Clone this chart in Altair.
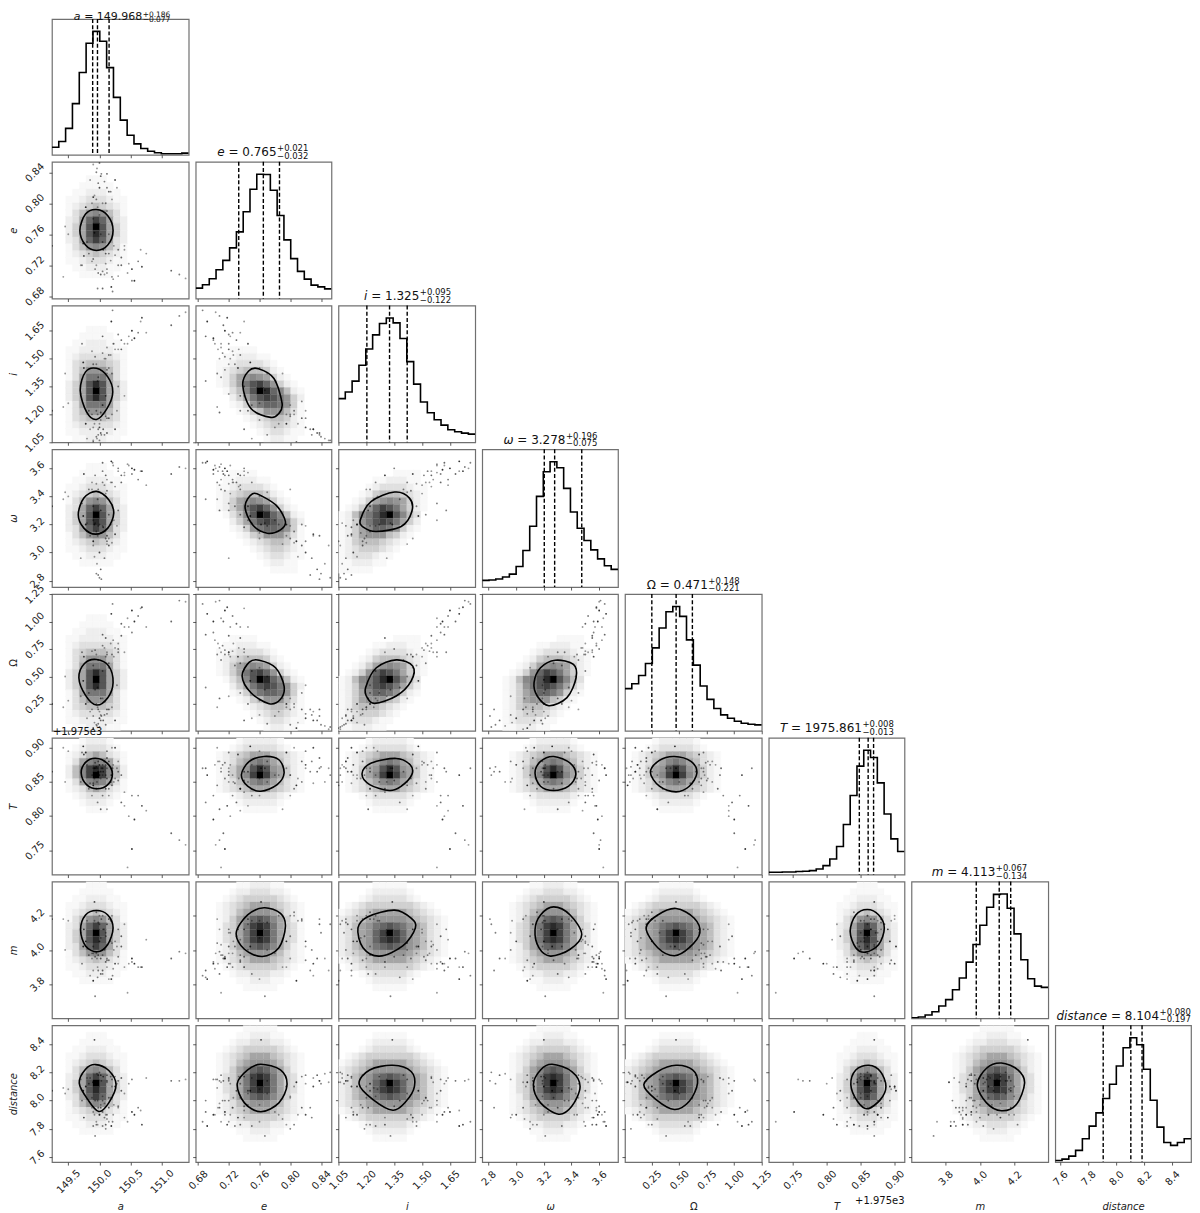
import altair as alt
import pandas as pd

# axis ranges, ticks and labels
VARS = ["a", "e", "i", "w", "O", "T", "m", "d"]
LO = dict(a=149.238, e=0.677, i=1.05, w=2.754, O=0.0055, T=0.7146, m=3.601, d=7.565)
HI = dict(a=151.43, e=0.8536, i=1.786, w=3.736, O=1.25, T=0.9145, m=4.399, d=8.533)
TICKS = dict(a=[149.5, 150.0, 150.5, 151.0], e=[0.68, 0.72, 0.76, 0.80, 0.84],
             i=[1.05, 1.20, 1.35, 1.50, 1.65], w=[2.8, 3.0, 3.2, 3.4, 3.6],
             O=[0.25, 0.50, 0.75, 1.00, 1.25], T=[0.75, 0.80, 0.85, 0.90],
             m=[3.8, 4.0, 4.2], d=[7.6, 7.8, 8.0, 8.2, 8.4])
FMT = dict(a=".1f", e=".2f", i=".2f", w=".1f", O=".2f", T=".2f", m=".1f", d=".1f")
LABEL = dict(a="a", e="e", i="i", w="ω", O="Ω", T="T", m="m", d="distance")
STYLE = dict(a="italic", e="italic", i="italic", w="italic", O="normal", T="italic", m="italic", d="italic")
XPAD = dict(a=16.3, e=14.7, i=14.7, w=13, O=14.7, T=14.7, m=13, d=13)
YPAD = dict(a=14, e=14.5, i=14.5, w=12, O=14.5, T=14.5, m=12, d=12)

# titles
NUM = dict(a="= 149.968", e="= 0.765", i="= 1.325", w="= 3.278", O="= 0.471", T="= 1975.861", m="= 4.113", d="= 8.104")
SUP = dict(a="+0.186", e="+0.021", i="+0.095", w="+0.196", O="+0.148", T="+0.008", m="+0.067", d="+0.080")
SUB = dict(a="−0.077", e="−0.032", i="−0.122", w="−0.075", O="−0.221", T="−0.013", m="−0.134", d="−0.197")
TITLE_X = dict(a=90.4, e=81, i=81, w=83.4, O=83, T=93.4, m=84, d=104)
NUM_W = dict(a=63.5, e=48.2, i=48.2, w=48.2, O=48.2, T=71, m=48.2, d=48.2)

# histograms (relative to the peak)
HIST = dict(
    a=[.061, .107, .214, .414, .666, .904, 1, .92, .706, .465, .281, .158, .088, .051, .029, .016, .008, .008, .008, .013],
    e=[.084, .111, .159, .232, .307, .407, .536, .698, .879, 1, .997, .871, .668, .472, .321, .218, .156, .108, .094, .078],
    i=[.351, .404, .492, .620, .75, .864, .955, 1, .96, .835, .649, .468, .324, .237, .181, .138, .101, .085, .074, .066],
    w=[.053, .056, .064, .08, .103, .164, .292, .485, .724, .92, 1, .952, .788, .599, .469, .371, .297, .225, .17, .141],
    O=[.339, .379, .445, .541, .667, .827, .957, 1, .92, .731, .528, .36, .253, .179, .128, .101, .077, .061, .053, .048],
    T=[.019, .019, .021, .021, .024, .027, .032, .045, .072, .125, .226, .402, .636, .872, 1, .941, .737, .487, .287, .186],
    m=[.005, .011, .027, .053, .099, .15, .23, .324, .452, .594, .749, .893, .997, 1, .885, .679, .471, .318, .259, .249],
    d=[.013, .024, .048, .094, .187, .289, .396, .511, .626, .773, .92, 1, .944, .746, .497, .281, .158, .134, .158, .187],
)
QUANT = dict(a=[149.891, 149.968, 150.154], e=[.733, .765, .786], i=[1.203, 1.325, 1.42], w=[3.203, 3.278, 3.474],
             O=[.25, .471, .619], T=[.848, .861, .869], m=[3.979, 4.113, 4.18], d=[7.907, 8.104, 8.184])

# density blocks: hex darkness 0-f, 'f' marks the peak cell
MT = ["000000111000000", "000001111100000", "000011222110000", "000112333211000", "000123454321000",
      "000135787531000", "000236aca632000", "000246bfb642000", "000246bdb642000", "000236aca632000",
      "000135787531000", "000123454321000", "000112333211000", "000011222110000", "000001111100000"]
TN = ["000000111000000", "000001111100000", "000011222110000", "000112222211000", "000123333321000",
      "000134555431000", "000135777531000", "000136999631000", "000246bdb642000", "000246bfb642000",
      "000246bdb642000", "000136999631000", "000135777531000", "000134555431000", "000123333321000",
      "000112222211000", "000011222110000", "000001111100000"]
RS = ["000000111000000", "000001222100000", "000012333210000", "000123565321000", "000136898631000",
      "000258cdc852000", "000258cfc852000", "000136898631000", "000123565321000", "000012333210000",
      "000001222100000", "000000111000000"]
WS = ["00000011111000000", "00000122222100000", "00001233333210000", "00123456665432100", "00123568986532100",
      "0012467bdb7642100", "0012468cfc8642100", "00123568986532100", "00123456665432100", "00001233333210000",
      "00000122222100000", "00000011111000000"]
BR = ["00000011111000000", "00000112221100000", "00001223332210000", "00012344444321000", "00123456665432100",
      "00123567776532100", "0012468aba8642100", "0013469cdc9643100", "0013469cfc9643100", "0013469cdc9643100",
      "0012468aba8642100", "00123567776532100", "00123456665432100", "00012344444321000", "00001223332210000",
      "00000112221100000", "00000011111000000"]
WB = ["0000000111110000000", "0000001222221000000", "0000012333332100000", "0001234444444321000",
      "0012345666665432100", "0123456777776543210", "012356" + "79aba97" + "653210", "012356" + "7acfca7" + "653210",
      "012356" + "7acdca7" + "653210", "012356" + "79aba97" + "653210", "0123456777776543210",
      "0012345666665432100", "0001234444444321000", "0000012333332100000", "0000001222221000000", "0000000111110000000"]
TNEG = ["000111100000000", "001122211000000", "011233332100000", "012345554210000", "012467876421000",
        "012469bca742100", "001358bfda85210", "0002469bcb97420", "00012479aa97410", "000012457775310",
        "000001234554210", "000000123443210", "000000012332110", "000000001221100", "000000000111100"]
TPOS = ["000000000111100", "000000112221100", "000001233332110", "000012455543210", "000124678764210",
        "001247acb964210", "012589bdfb85300", "012479bcb964200", "012468aa9742100", "012467775421000",
        "012455543210000", "012344432100000", "012333211000000", "011222110000000", "111111000000000"]

DARK = ["#ffffff", "#f8f8f8", "#eeeeee", "#e0e0e0", "#d0d0d0", "#bfbfbf", "#a5a5a5", "#959595",
        "#888888", "#777777", "#666666", "#555555", "#404040", "#2a2a2a", "#151515", "#000000"]

CENTER_COL = dict(a=6, e=9, i=7, w=10, O=7, T=14, m=12, d=11)
CENTER_ROW = dict(e=9, i=12, w=9, O=12, T=5, m=7, d=8)

PANELS = [
    ("a", "e", MT), ("a", "i", TN), ("e", "i", TNEG), ("a", "w", MT), ("e", "w", TNEG), ("i", "w", TPOS),
    ("a", "O", TN), ("e", "O", TNEG), ("i", "O", TPOS), ("w", "O", TPOS),
    ("a", "T", RS), ("e", "T", WS), ("i", "T", WS), ("w", "T", WS), ("O", "T", WS),
    ("a", "m", MT), ("e", "m", BR), ("i", "m", WB), ("w", "m", BR), ("O", "m", WB), ("T", "m", MT),
    ("a", "d", MT), ("e", "d", BR), ("i", "d", WB), ("w", "d", BR), ("O", "d", WB), ("T", "d", MT), ("m", "d", BR),
]

# contour outlines (x list, y list) in data units
CONTOUR = {
    "a|e": ([149.686, 149.777, 149.952, 150.133, 150.218, 150.133, 149.952, 149.777], [.765, .786, .792, .784, .765, .746, .739, .746]),
    "a|i": ([149.691, 149.777, 149.952, 150.133, 150.213, 150.122, 149.952, 149.793], [1.33, 1.429, 1.448, 1.402, 1.321, 1.232, 1.173, 1.214]),
    "a|w": ([149.66, 149.75, 149.952, 150.149, 150.229, 150.133, 149.936, 149.75], [3.269, 3.388, 3.436, 3.376, 3.281, 3.174, 3.131, 3.174]),
    "a|O": ([149.67, 149.76, 149.952, 150.149, 150.218, 150.133, 149.952, 149.777], [.488, .618, .654, .594, .443, .307, .24, .328]),
    "a|T": ([149.707, 149.777, 149.936, 150.122, 150.207, 150.133, 149.963, 149.793], [.863, .8785, .8845, .8775, .862, .846, .84, .846]),
    "a|m": ([149.697, 149.777, 149.952, 150.133, 150.218, 150.133, 149.963, 149.777], [4.118, 4.204, 4.23, 4.204, 4.128, 4.032, 3.989, 4.023]),
    "a|d": ([149.676, 149.777, 149.936, 150.149, 150.266, 150.149, 149.989, 149.814], [8.124, 8.222, 8.255, 8.213, 8.112, 7.984, 7.923, 8.007]),
    "e|i": ([.7382, .7459, .7587, .7788, .7894, .7852, .7745, .7489], [1.357, 1.434, 1.446, 1.393, 1.259, 1.205, 1.184, 1.232]),
    "e|w": ([.7412, .751, .7638, .783, .7937, .7873, .7702, .751], [3.329, 3.419, 3.4, 3.329, 3.221, 3.162, 3.138, 3.198]),
    "e|O": ([.7374, .7468, .7596, .7809, .792, .7873, .7724, .7489], [.503, .63, .648, .579, .412, .292, .252, .352]),
    "e|T": ([.7365, .7468, .766, .7852, .792, .783, .7617, .7446], [.8606, .88, .8872, .8824, .863, .8461, .8364, .8437]),
    "e|m": ([.7297, .7446, .766, .7873, .7937, .7852, .7638, .7404], [4.099, 4.204, 4.246, 4.213, 4.137, 4.013, 3.962, 4.004]),
    "e|d": ([.731, .7446, .7617, .7873, .7958, .7852, .7617, .7404], [8.119, 8.217, 8.257, 8.217, 8.112, 7.984, 7.921, 7.984]),
    "i|w": ([1.168, 1.227, 1.352, 1.432, 1.445, 1.3875, 1.254, 1.186], [3.233, 3.364, 3.431, 3.388, 3.293, 3.186, 3.15, 3.179]),
    "i|O": ([1.196, 1.254, 1.361, 1.45, 1.441, 1.361, 1.245, 1.205], [.397, .579, .651, .594, .458, .322, .255, .307]),
    "i|T": ([1.177, 1.227, 1.361, 1.436, 1.445, 1.3875, 1.325, 1.218], [.862, .8775, .8843, .875, .8606, .8437, .8374, .8461]),
    "i|m": ([1.155, 1.209, 1.352, 1.441, 1.464, 1.396, 1.271, 1.182], [4.128, 4.194, 4.232, 4.185, 4.128, 4.023, 3.964, 4.013]),
    "i|d": ([1.161, 1.218, 1.343, 1.441, 1.459, 1.414, 1.343, 1.236], [8.119, 8.217, 8.25, 8.206, 8.1, 7.995, 7.932, 8.007]),
    "w|O": ([3.129, 3.176, 3.283, 3.414, 3.433, 3.367, 3.236, 3.152], [.443, .579, .648, .609, .488, .307, .234, .322]),
    "w|T": ([3.136, 3.176, 3.271, 3.39, 3.431, 3.379, 3.271, 3.176], [.863, .88, .8872, .8775, .8606, .8437, .8374, .8437]),
    "w|m": ([3.136, 3.176, 3.271, 3.39, 3.474, 3.39, 3.248, 3.164], [4.118, 4.204, 4.251, 4.204, 4.09, 4.004, 3.964, 4.013]),
    "w|d": ([3.124, 3.176, 3.26, 3.402, 3.462, 3.402, 3.307, 3.176], [8.112, 8.217, 8.257, 8.206, 8.1, 7.96, 7.904, 7.984]),
    "O|T": ([.237, .319, .455, .606, .66, .591, .47, .319], [.864, .8814, .8872, .88, .863, .8437, .8355, .8437]),
    "O|m": ([.198, .304, .47, .636, .687, .591, .455, .304], [4.128, 4.204, 4.242, 4.185, 4.099, 4.013, 3.966, 4.013]),
    "O|d": ([.177, .304, .47, .621, .666, .591, .455, .289], [8.112, 8.206, 8.25, 8.217, 8.124, 7.995, 7.937, 8.007]),
    "T|m": ([.8345, .8428, .8597, .8766, .8848, .8766, .8572, .8428], [4.109, 4.204, 4.236, 4.204, 4.128, 4.032, 3.987, 4.013]),
    "T|d": ([.8355, .8428, .8621, .879, .8872, .879, .8597, .8452], [8.112, 8.217, 8.25, 8.206, 8.1, 8.007, 7.942, 7.995]),
    "m|d": ([3.985, 4.039, 4.126, 4.222, 4.261, 4.213, 4.126, 4.039], [8.112, 8.229, 8.266, 8.217, 8.124, 7.972, 7.928, 7.984]),
}

# outlying samples: a, e, i, w, O, T, m, d, opacity
SAMPLES = [
    (151.28, .708, 1.73, 3.61, 1.19, .765, 3.99, 8.14, .5), (151.15, .713, 1.68, 3.56, 1.00, .775, 3.95, 8.14, .6),
    (151.38, .703, 1.75, 3.60, 1.18, .758, 3.98, 8.15, .4), (150.68, .718, 1.72, 3.58, 1.13, .815, 3.90, 7.83, .7),
    (150.75, .735, 1.64, 3.48, .95, .808, 4.06, 8.16, .4), (150.47, .722, 1.62, 3.62, .95, .80, 3.92, 8.12, .4),
    (150.52, .70, 1.60, 3.56, .90, .83, 3.93, 8.15, .5), (150.21, .686, 1.76, 3.64, 1.16, .87, 3.85, 7.85, .5),
    (150.19, .692, 1.70, 3.65, 1.07, .86, 3.83, 7.82, .8), (150.05, .69, 1.62, 3.64, .88, .87, 3.88, 7.92, .6),
    (150.22, .702, 1.58, 3.62, .83, .875, 3.89, 7.9, .4), (150.3, .706, 1.55, 3.58, .80, .88, 3.92, 7.95, .4),
    (150.05, .712, 1.53, 3.58, .78, .875, 3.97, 8.0, .5), (149.93, .715, 1.51, 3.55, .74, .878, 3.96, 8.0, .5),
    (150.12, .71, 1.56, 3.52, .72, .87, 4.03, 8.13, .4), (150.35, .72, 1.55, 3.55, .87, .86, 4.02, 8.16, .6),
    (149.88, .725, 1.54, 3.50, .73, .86, 3.98, 7.95, .4), (150.18, .726, 1.52, 3.50, .80, .85, 4.05, 8.02, .4),
    (150.08, .708, 1.5, 3.48, .76, .88, 4.12, 7.98, .4), (149.95, .72, 1.47, 3.49, .70, .87, 3.98, 7.85, .4),
    (149.75, .732, 1.45, 3.56, .68, .89, 4.12, 7.88, .7), (150.4, .745, 1.58, 3.57, .95, .815, 4.15, 8.05, .4),
    (150.35, .73, 1.6, 3.5, .98, .82, 4.08, 8.07, .6), (150.56, .70, 1.61, 3.59, 1.0, .795, 3.92, 7.9, .8),
    (150.62, .725, 1.64, 3.52, 1.05, .83, 3.9, 7.95, .5),
    (150.0, .852, 1.06, 2.82, .04, .86, 4.15, 8.2, .5), (149.95, .84, 1.08, 2.85, .06, .872, 4.1, 8.12, .5),
    (150.02, .835, 1.1, 2.88, .10, .865, 3.95, 8.18, .6), (149.96, .845, 1.07, 2.92, .05, .85, 3.95, 8.19, .4),
    (150.08, .828, 1.09, 2.96, .15, .88, 4.0, 7.88, .5), (150.0, .82, 1.13, 3.0, .12, .875, 4.05, 7.9, .7),
    (149.92, .81, 1.15, 2.97, .08, .855, 4.17, 7.9, .4), (149.98, .826, 1.12, 2.84, .20, .865, 3.88, 7.95, .5),
    (150.03, .838, 1.09, 2.81, .14, .87, 4.18, 8.14, .5), (150.15, .815, 1.18, 3.05, .2, .88, 4.18, 7.95, .6),
    (150.2, .805, 1.2, 3.07, .22, .9, 4.2, 8.1, .4), (150.1, .80, 1.19, 3.1, .06, .86, 4.08, 7.8, .5),
    (149.9, .808, 1.05, 3.08, .03, .845, 3.82, 8.13, .8), (149.85, .83, 1.12, 3.12, .18, .848, 3.85, 8.16, .4),
    (150.12, .82, 1.18, 3.08, .16, .895, 3.94, 8.18, .5), (149.97, .795, 1.2, 3.12, .22, .87, 3.9, 7.83, .4),
    (149.95, .805, 1.22, 3.15, .25, .84, 4.22, 7.83, .5), (150.25, .83, 1.12, 3.13, .1, .9, 3.92, 8.1, .7),
    (149.9, .85, 1.06, 3.05, .02, .87, 3.88, 8.13, .4),
    (149.74, .748, 1.48, 3.26, .46, .902, 4.02, 8.07, .8), (149.78, .795, 1.15, 3.2, .25, .893, 4.05, 8.1, .8),
    (149.72, .72, 1.58, 3.35, .72, .893, 3.92, 8.0, .5), (149.92, .762, 1.34, 3.2, .47, .87, 4.28, 8.43, .7),
    (149.93, .767, 1.33, 3.21, .38, .87, 3.73, 7.75, .5), (149.24, .745, 1.22, 3.33, .25, .865, 4.18, 8.07, .6),
    (149.42, .705, 1.24, 3.38, .22, .9, 4.18, 8.09, .4), (149.5, .76, 1.26, 3.4, .28, .895, 4.17, 8.08, .4),
    (149.45, .77, 1.42, 3.43, .5, .85, 4.0, 8.05, .4), (149.7, .72, 1.31, 2.96, .32, .85, 4.1, 8.15, .4),
    (150.2, .705, 1.42, 3.5, .7, .845, 4.04, 8.15, .5), (149.98, .71, 1.4, 3.45, .65, .865, 3.97, 8.18, .5),
    (150.1, .722, 1.5, 3.42, .68, .875, 4.1, 7.9, .4), (150.25, .733, 1.55, 3.47, .76, .855, 4.05, 8.17, .4),
    (149.9, .728, 1.47, 3.33, .6, .848, 4.02, 7.82, .5), (150.12, .715, 1.44, 3.44, .7, .855, 3.95, 7.9, .5),
    (150.3, .74, 1.35, 3.6, .75, .852, 3.96, 7.96, .5), (149.83, .735, 1.22, 3.45, .35, .84, 3.97, 8.12, .5),
    (150.18, .815, 1.27, 3.2, .35, .85, 4.17, 8.17, .5), (150.28, .82, 1.22, 3.19, .42, .87, 4.02, 8.12, .4),
    (150.05, .80, 1.25, 3.19, .3, .86, 4.2, 8.03, .4), (150.12, .838, 1.1, 3.12, .2, .885, 4.15, 8.14, .6),
    (150.0, .785, 1.15, 3.2, .18, .86, 4.2, 7.9, .4), (149.8, .75, 1.07, 3.21, .12, .875, 4.17, 8.16, .4),
    (149.98, .77, 1.09, 3.19, .07, .88, 4.16, 8.14, .5), (150.06, .74, 1.12, 3.18, .1, .865, 4.12, 8.17, .6),
    (150.02, .76, 1.17, 3.14, .15, .855, 4.07, 7.97, .4), (149.9, .78, 1.13, 3.23, .14, .86, 3.98, 7.92, .4),
    (150.3, .72, 1.63, 3.3, .72, .865, 4.12, 8.14, .5), (150.15, .735, 1.52, 3.27, .62, .84, 3.94, 8.02, .5),
    (150.23, .745, 1.58, 3.23, .68, .85, 4.0, 7.97, .4), (150.4, .74, 1.3, 3.55, .72, .835, 3.9, 7.88, .4),
    (150.05, .75, 1.25, 3.5, .55, .83, 3.86, 7.82, .5), (149.97, .69, 1.38, 3.38, .4, .82, 3.84, 8.0, .5),
    (150.02, .708, 1.21, 3.3, .3, .81, 3.86, 7.95, .6), (150.15, .76, 1.45, 3.1, .58, .83, 3.83, 7.85, .4),
    (150.1, .735, 1.3, 3.55, .85, .84, 3.93, 7.83, .6), (149.88, .80, 1.2, 3.45, .2, .83, 3.95, 8.02, .4),
    (150.12, .79, 1.42, 3.06, .3, .81, 3.9, 7.87, .4), (150.45, .71, 1.58, 3.63, 1.03, .725, 3.75, 7.85, .4),
    (150.52, .715, 1.65, 3.6, 1.1, .752, 3.95, 7.92, .8), (150.66, .74, 1.7, 3.58, 1.12, .712, 3.9, 7.93, .4),
]

FONT = "DejaVu Sans"
COL_W = [137, 136, 137, 136, 137, 136, 137, 136]
ROW_H = [136, 137, 137, 138, 137, 137, 137, 137]
BORDER = "#707070"
samples = pd.DataFrame(SAMPLES, columns=VARS + ["o"])
GREY = alt.Scale(domain=list(range(16)), range=DARK)


def x_enc(v, bottom, field="x"):
    axis = alt.Axis(values=TICKS[v], format=FMT[v], labels=bottom, grid=False, domain=False, tickSize=3, tickWidth=.8,
                    tickColor="#333333", labelAngle=-45, labelAlign="center", labelBaseline="middle",
                    labelPadding=XPAD[v], labelFont=FONT, labelFontSize=10, labelColor="#222222", labelOverlap=False,
                    labelFlush=False, title=LABEL[v] if bottom else None, titleFont=FONT, titleFontSize=10,
                    titleFontStyle=STYLE[v], titleFontWeight="normal", titleY=45, titleBaseline="middle", titleColor="#222222")
    return alt.X(f"{field}:Q", scale=alt.Scale(domain=[LO[v], HI[v]], nice=False, zero=False), axis=axis)


def y_enc(v, first, field="y"):
    axis = alt.Axis(values=TICKS[v], format=FMT[v], labels=first, grid=False, domain=False, tickSize=3, tickWidth=.8,
                    tickColor="#333333", labelAngle=-45, labelAlign="center", labelBaseline="middle",
                    labelPadding=YPAD[v], labelFont=FONT, labelFontSize=10, labelColor="#222222", labelOverlap=False,
                    labelFlush=False, title=LABEL[v] if first else None, titleFont=FONT, titleFontSize=10,
                    titleFontStyle=STYLE[v], titleFontWeight="normal", titleX=-38, titleBaseline="middle", titleColor="#222222")
    return alt.Y(f"{field}:Q", scale=alt.Scale(domain=[LO[v], HI[v]], nice=False, zero=False), axis=axis)


def text_part(text, x, y, align, size, style="normal"):
    return alt.Chart(pd.DataFrame({"t": [text]})).mark_text(
        font=FONT, fontSize=size, fontStyle=style, align=align, baseline="alphabetic", color="#111111", clip=False
    ).encode(text="t:N", x=alt.value(x), y=alt.value(y))


def off_panel(xv, yv, block, row, col):
    rows = []
    peak_r = next(k for k, s in enumerate(block) if "f" in s)
    peak_c = block[peak_r].index("f")
    dx = (HI[xv] - LO[xv]) / 20
    dy = (HI[yv] - LO[yv]) / 20
    for r, s in enumerate(block):
        for c, ch in enumerate(s):
            cc = CENTER_COL[xv] + c - peak_c
            rr = CENTER_ROW[yv] + r - peak_r
            if ch != "0" and 0 <= cc < 20 and 0 <= rr < 20:
                rows.append(dict(x=LO[xv] + cc * dx, x2=LO[xv] + (cc + 1) * dx,
                                 y=HI[yv] - rr * dy, y2=HI[yv] - (rr + 1) * dy, v=int(ch, 16)))
    bottom, first = row == 7, col == 0
    heat = alt.Chart(pd.DataFrame(rows)).mark_rect(strokeWidth=.3, clip=True).encode(
        x=x_enc(xv, bottom), x2="x2:Q", y=y_enc(yv, first), y2="y2:Q",
        fill=alt.Fill("v:Q", scale=GREY, legend=None), stroke=alt.Stroke("v:Q", scale=GREY, legend=None))
    pts = alt.Chart(samples).mark_circle(size=3.5, color="#000000", clip=True).encode(
        x=x_enc(xv, bottom, xv), y=y_enc(yv, first, yv), opacity=alt.Opacity("o:Q", scale=None))
    cx, cy = CONTOUR[f"{xv}|{yv}"]
    line = alt.Chart(pd.DataFrame({"x": cx, "y": cy, "k": range(len(cx))})).mark_line(
        interpolate="cardinal-closed", color="#000000", strokeWidth=1.6, clip=True
    ).encode(x=x_enc(xv, bottom), y=y_enc(yv, first), order="k:Q")
    layers = [heat, pts, line]
    if xv == "a" and yv == "T":
        layers.append(text_part("+1.975e3", 1, -2.5, "left", 10))
    if xv == "T" and yv == "d":
        layers.append(text_part("+1.975e3", COL_W[col], ROW_H[row] + 42, "right", 10))
    return alt.layer(*layers).properties(width=COL_W[col], height=ROW_H[row])


def diag_panel(v, row):
    n = len(HIST[v])
    d = (HI[v] - LO[v]) / n
    h = pd.DataFrame({"x": [LO[v] + k * d for k in range(n + 1)], "y": HIST[v] + [HIST[v][-1]]})
    step = alt.Chart(h).mark_line(interpolate="step-after", color="#000000", strokeWidth=1.6, clip=True).encode(
        x=x_enc(v, row == 7),
        y=alt.Y("y:Q", scale=alt.Scale(domain=[0, 1.1], nice=False, zero=False), axis=None))
    rules = alt.Chart(pd.DataFrame({"x": QUANT[v]})).mark_rule(
        color="#000000", strokeWidth=1.4, strokeDash=[4, 2.2]).encode(x=x_enc(v, row == 7))
    xs = TITLE_X[v]
    if row == 0:
        y_main, y_sup, y_sub, fs, fss = 1, -2.5, 3, 11, 7.5
    else:
        y_main, y_sup, y_sub, fs, fss = -5.3, -10.5, -3, 12, 8.5
    k = fs / 12
    parts = [text_part(LABEL[v], xs - (NUM_W[v] + 3.8) * k, y_main, "right", fs, STYLE[v]),
             text_part(NUM[v], xs, y_main, "right", fs),
             text_part(SUP[v], xs + .5, y_sup, "left", fss),
             text_part(SUB[v], xs + .5, y_sub, "left", fss)]
    return alt.layer(step, rules, *parts).properties(width=COL_W[row], height=ROW_H[row])


def blank(row, col):
    return alt.Chart(pd.DataFrame({"x": [0]})).mark_point(opacity=0).encode(
        x=alt.X("x:Q", axis=None), y=alt.Y("x:Q", axis=None)
    ).properties(width=COL_W[col], height=ROW_H[row], view=alt.ViewConfig(stroke="transparent"))


lookup = {(x, y): b for x, y, b in PANELS}
cells = []
for r, yv in enumerate(VARS):
    for c, xv in enumerate(VARS):
        if c > r:
            cells.append(blank(r, c))
        elif c == r:
            cells.append(diag_panel(xv, r))
        else:
            cells.append(off_panel(xv, yv, lookup[(xv, yv)], r, c))

chart = alt.concat(*cells, columns=8, spacing=7, bounds="flush").resolve_scale(
    x="independent", y="independent", fill="independent", stroke="independent"
).properties(
    padding={"left": 0, "top": 0, "right": 0, "bottom": 0}, background="#ffffff"
).configure_view(stroke=BORDER, strokeWidth=1.2)

chart.save("out.html", embed_options={"renderer": "svg", "actions": False})
